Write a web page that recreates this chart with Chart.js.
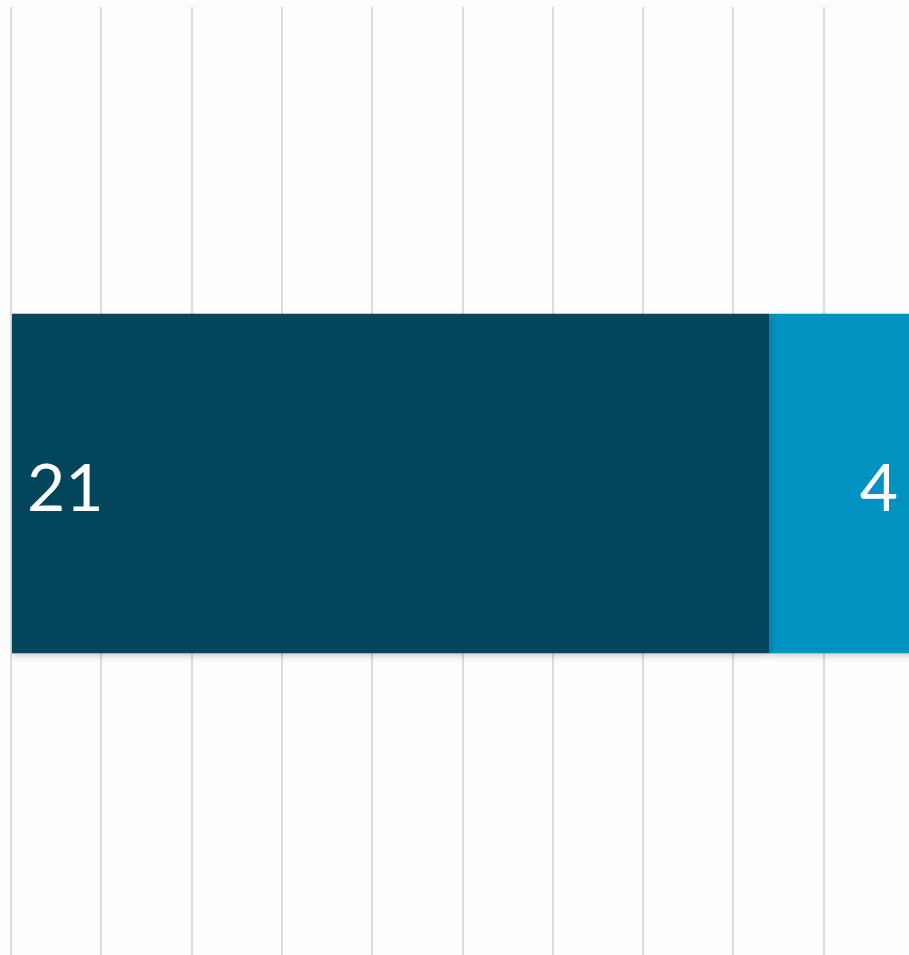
<!DOCTYPE html>
<html>
<head>
<meta charset="utf-8">
<script src="https://cdn.jsdelivr.net/npm/chart.js@4/dist/chart.umd.min.js"></script>
<style>
  html, body { margin: 0; padding: 0; background: #fdfdfd; overflow: hidden; }
  #wrap { position: absolute; left: 0; top: 0; width: 922px; height: 960px; }
</style>
</head>
<body>
<div id="wrap"><canvas id="chart"></canvas></div>
<script>
const categories = [''];
const seriesNames = ['Series 1', 'Series 2'];
const seriesA = [21];
const seriesB = [4];
const seriesColors = ['#03465b', '#0093c1'];
const axisMax = 25;
const axisStep = 2.5;

// soft shadow under the bars, like the office chart
const barShadow = {
  id: 'barShadow',
  beforeDatasetsDraw(chart) {
    const ctx = chart.ctx;
    ctx.save();
    ctx.shadowColor = 'rgba(0, 0, 0, 0.22)';
    ctx.shadowBlur = 7;
    ctx.shadowOffsetY = 3;
  },
  afterDatasetsDraw(chart) {
    chart.ctx.restore();
  }
};

// value labels: first series at the bar start, second at the bar end
const valueLabels = {
  id: 'valueLabels',
  afterDraw(chart) {
    const ctx = chart.ctx;
    ctx.save();
    ctx.fillStyle = '#ffffff';
    ctx.font = '66px Lato, "Open Sans", sans-serif';
    ctx.textBaseline = 'alphabetic';
    chart.data.datasets.forEach((ds, i) => {
      chart.getDatasetMeta(i).data.forEach((bar, j) => {
        const txt = String(ds.data[j]);
        if (i === 0) {
          ctx.textAlign = 'left';
          ctx.fillText(txt, bar.base + 15, bar.y + 27);
        } else {
          ctx.textAlign = 'right';
          ctx.fillText(txt, bar.x - 16, bar.y + 27);
        }
      });
    });
    ctx.restore();
  }
};

new Chart(document.getElementById('chart'), {
  type: 'bar',
  data: {
    labels: categories,
    datasets: [
      { label: seriesNames[0], data: seriesA, backgroundColor: seriesColors[0] },
      { label: seriesNames[1], data: seriesB, backgroundColor: seriesColors[1] }
    ]
  },
  options: {
    indexAxis: 'y',
    responsive: true,
    maintainAspectRatio: false,
    animation: false,
    layout: { padding: { left: 11, top: 7, right: 8, bottom: 0 } },
    datasets: {
      bar: { barPercentage: 0.356, categoryPercentage: 1 }
    },
    plugins: {
      legend: { display: false },
      tooltip: { enabled: false }
    },
    scales: {
      x: {
        stacked: true,
        min: 0,
        max: axisMax,
        ticks: { display: false, stepSize: axisStep },
        border: { display: false },
        grid: { color: '#dcdcdc', lineWidth: 2, drawTicks: false }
      },
      y: {
        stacked: true,
        display: false
      }
    }
  },
  plugins: [barShadow, valueLabels]
});
</script>
</body>
</html>
